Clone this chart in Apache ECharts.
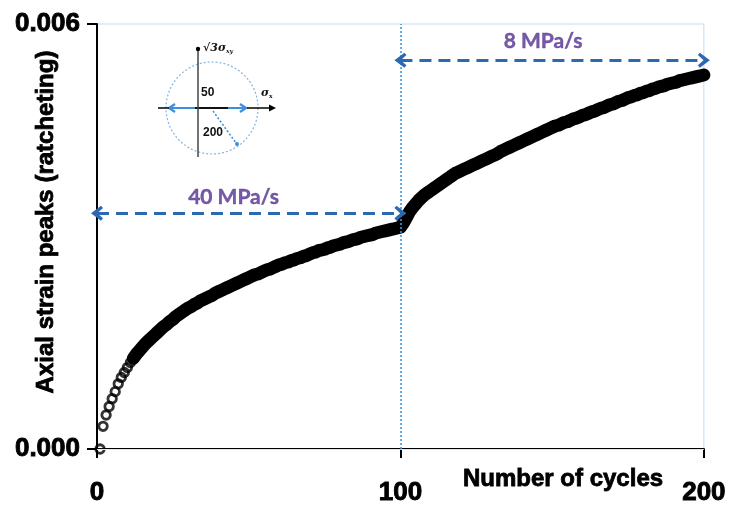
<!DOCTYPE html>
<html>
<head>
<meta charset="utf-8">
<script src="https://cdn.jsdelivr.net/npm/echarts@6/dist/echarts.min.js"></script>
<style>
html,body{margin:0;padding:0;background:#fff;}
#chart{width:729px;height:508px;}
</style>
</head>
<body>
<div id="chart"></div>
<script>
// ---- data ----
const strain = [
0, 0.00032, 0.00048, 0.00060, 0.00071, 0.00081, 0.00092, 0.00101, 0.00108, 0.00115,
0.00122, 0.00128, 0.00134, 0.00139, 0.00144, 0.00149, 0.00153, 0.00157, 0.00161, 0.00165,
0.00169, 0.00173, 0.00176, 0.00180, 0.00183, 0.00187, 0.00190, 0.00193, 0.00196, 0.00199,
0.00201, 0.00204, 0.00206, 0.00209, 0.00211, 0.00213, 0.00215, 0.00217, 0.00220, 0.00222,
0.00224, 0.00226, 0.00228, 0.00230, 0.00232, 0.00234, 0.00236, 0.00238, 0.00240, 0.00242,
0.00244, 0.00246, 0.00247, 0.00249, 0.00251, 0.00253, 0.00254, 0.00256, 0.00258, 0.00260,
0.00261, 0.00263, 0.00264, 0.00266, 0.00267, 0.00269, 0.00270, 0.00272, 0.00273, 0.00275,
0.00277, 0.00278, 0.00280, 0.00281, 0.00282, 0.00284, 0.00285, 0.00287, 0.00288, 0.00289,
0.00291, 0.00292, 0.00293, 0.00295, 0.00296, 0.00297, 0.00299, 0.00300, 0.00301, 0.00302,
0.00303, 0.00305, 0.00306, 0.00307, 0.00308, 0.00309, 0.00310, 0.00311, 0.00312, 0.00313,
0.00319, 0.00327, 0.00335, 0.00341, 0.00346, 0.00351, 0.00355, 0.00359, 0.00362, 0.00365,
0.00368, 0.00371, 0.00374, 0.00377, 0.00380, 0.00383, 0.00386, 0.00389, 0.00391, 0.00393,
0.00395, 0.00397, 0.00399, 0.00401, 0.00403, 0.00405, 0.00407, 0.00409, 0.00411, 0.00413,
0.00415, 0.00417, 0.00420, 0.00422, 0.00424, 0.00426, 0.00428, 0.00430, 0.00432, 0.00434,
0.00436, 0.00438, 0.00440, 0.00442, 0.00444, 0.00446, 0.00448, 0.00450, 0.00452, 0.00454,
0.00456, 0.00457, 0.00459, 0.00461, 0.00462, 0.00464, 0.00466, 0.00467, 0.00469, 0.00471,
0.00472, 0.00474, 0.00476, 0.00477, 0.00479, 0.00481, 0.00482, 0.00484, 0.00486, 0.00487,
0.00489, 0.00491, 0.00492, 0.00494, 0.00496, 0.00497, 0.00499, 0.00500, 0.00502, 0.00503,
0.00505, 0.00506, 0.00508, 0.00509, 0.00511, 0.00512, 0.00513, 0.00515, 0.00516, 0.00517,
0.00518, 0.00520, 0.00521, 0.00522, 0.00523, 0.00524, 0.00525, 0.00526, 0.00527, 0.00528
];
const firstCycle = 1;
const cycles = strain.map((_, i) => firstCycle + i);

const xTicks = [0, 100, 200];
const yTicks = [0.000, 0.006];
const rateLabels = ['40 MPa/s', '8 MPa/s'];
const rateRanges = [[0, 100], [100, 200]];
const rateArrowY = [0.00333, 0.00549];
const rateLabelY = [0.00356, 0.00575];
const rateChange = 100;
const faintGridY = 0.00481;

const points = cycles.map((c, i) => [c, strain[i]]);
const bandStart = 11;

// ---- chart ----
const chart = echarts.init(document.getElementById('chart'), null, {renderer: 'canvas'});
const FONT = '"Liberation Sans", Arial, sans-serif';
const BLUE = '#2c69b0';
const chevron = 'path://M5,0 L10,7 L8.4,8.4 L5,4.4 L1.6,8.4 L0,7 Z';
const heavy = {textBorderColor: '#000', textBorderWidth: 0.9};

const option = {
  backgroundColor: '#ffffff',
  animation: false,
  grid: {left: 97, right: 22, top: 24, bottom: 59, show: true,
         borderColor: '#c6dbf0', borderWidth: 1, backgroundColor: 'transparent'},
  xAxis: {
    type: 'value', min: xTicks[0], max: xTicks[xTicks.length - 1], interval: 100,
    axisLine: {show: true, onZero: false, lineStyle: {color: '#000', width: 2}},
    axisTick: {show: true, length: 9, lineStyle: {color: '#000', width: 2}},
    axisLabel: Object.assign({margin: 31, fontFamily: FONT, fontWeight: 'bold', fontSize: 26, color: '#000'}, heavy),
    splitLine: {show: false}
  },
  yAxis: {
    type: 'value', min: yTicks[0], max: yTicks[1], interval: 0.006,
    axisLine: {show: true, onZero: false, lineStyle: {color: '#000', width: 2}},
    axisTick: {show: true, length: 10, lineStyle: {color: '#000', width: 2}},
    axisLabel: Object.assign({margin: 17, fontFamily: FONT, fontWeight: 'bold', fontSize: 26, color: '#000',
                formatter: v => v.toFixed(3)}, heavy),
    splitLine: {show: false}
  },
  series: [
    {
      type: 'line', name: 'band', data: points.slice(bandStart), showSymbol: false,
      lineStyle: {color: '#000', width: 13, cap: 'round', join: 'round'}, z: 2,
      silent: true
    },
    {
      type: 'scatter', name: 'strain', data: points, symbol: 'circle', symbolSize: 8.5,
      itemStyle: {color: 'transparent', borderColor: '#000', borderWidth: 2.8}, z: 3,
      clip: false,
      markLine: {
        silent: true, symbol: 'none', animation: false,
        label: {show: false},
        data: [
          {xAxis: rateChange, lineStyle: {color: '#3c9ae0', width: 1.6, type: [2, 2]}},
          {yAxis: faintGridY, lineStyle: {color: '#dce9f6', width: 1, type: 'solid'}}
        ]
      }
    },
    {
      type: 'scatter', name: 'rates', symbolSize: 1,
      data: rateLabels.map((t, i) => ({value: [(rateRanges[i][0] + rateRanges[i][1]) / 2 + (i === 0 ? -5 : -3), rateLabelY[i]], name: t})),
      itemStyle: {color: 'transparent'},
      label: {show: true, position: 'inside', formatter: p => p.name,
              fontFamily: 'Lato, "Open Sans", sans-serif', fontWeight: 'bold', fontSize: 21, color: '#54318f',
              textBorderColor: '#54318f', textBorderWidth: 0.4},
      z: 4,
      markLine: {
        silent: true, animation: false,
        symbol: [chevron, chevron], symbolSize: [15, 12],
        label: {show: false},
        lineStyle: {color: BLUE, width: 3, type: [12, 7]},
        data: rateRanges.map((r, i) => [{coord: [r[0], rateArrowY[i]]}, {coord: [r[1], rateArrowY[i]]}])
      }
    }
  ],
  graphic: [
    {type: 'text', x: 46, y: 222, rotation: Math.PI / 2,
     style: {text: 'Axial strain peaks (ratcheting)', font: 'bold 24px ' + FONT, fill: '#000',
             stroke: '#000', lineWidth: 0.8,
             align: 'center', verticalAlign: 'middle'}},
    {type: 'text', x: 463, y: 479,
     style: {text: 'Number of cycles', font: 'bold 24px ' + FONT, fill: '#000',
             stroke: '#000', lineWidth: 0.8,
             align: 'left', verticalAlign: 'middle'}},
    // inset loading-path sketch
    {type: 'circle', shape: {cx: 212, cy: 108, r: 46},
     style: {fill: 'none', stroke: '#86b6e0', lineWidth: 1.2, lineDash: [2, 2]}},
    {type: 'line', shape: {x1: 168, y1: 108, x2: 247, y2: 108}, style: {stroke: '#3c8fdc', lineWidth: 2.2}},
    {type: 'polyline', shape: {points: [[175, 104], [169, 108], [175, 112]]}, style: {stroke: '#3c8fdc', lineWidth: 2.2, fill: 'none'}},
    {type: 'polyline', shape: {points: [[240, 104], [246, 108], [240, 112]]}, style: {stroke: '#3c8fdc', lineWidth: 2.2, fill: 'none'}},
    {type: 'line', shape: {x1: 158, y1: 108, x2: 169, y2: 108}, style: {stroke: '#111', lineWidth: 1.6}},
    {type: 'line', shape: {x1: 195, y1: 108, x2: 228, y2: 108}, style: {stroke: '#111', lineWidth: 2.2}},
    {type: 'line', shape: {x1: 247, y1: 108, x2: 270, y2: 108}, style: {stroke: '#111', lineWidth: 1.6}},
    {type: 'polygon', shape: {points: [[276, 108], [269, 104.5], [269, 111.5]]}, style: {fill: '#000'}},
    {type: 'line', shape: {x1: 198, y1: 49, x2: 198, y2: 157}, style: {stroke: '#444', lineWidth: 1.5}},
    {type: 'circle', shape: {cx: 198, cy: 49, r: 2.2}, style: {fill: '#000'}},
    {type: 'line', shape: {x1: 213, y1: 111, x2: 236, y2: 143}, style: {stroke: '#3c8fdc', lineWidth: 1.6, lineDash: [2, 2]}},
    {type: 'circle', shape: {cx: 237, cy: 144, r: 2}, style: {fill: '#3c8fdc'}},
    {type: 'text', x: 201, y: 93,
     style: {text: '50', font: 'bold 12px ' + FONT, fill: '#111', align: 'left', verticalAlign: 'middle'}},
    {type: 'text', x: 203, y: 133,
     style: {text: '200', font: 'bold 12px ' + FONT, fill: '#111', align: 'left', verticalAlign: 'middle'}},
    {type: 'text', x: 203, y: 48,
     style: {text: '√3σ{s|xy}', fill: '#111', font: 'bold italic 11px "DejaVu Serif", serif',
             align: 'left', verticalAlign: 'middle',
             rich: {s: {fontSize: 6, fontWeight: 'bold', fontStyle: 'italic', fontFamily: '"DejaVu Serif", serif', padding: [6, 0, 0, 0], fill: '#111'}}}},
    {type: 'text', x: 261, y: 93,
     style: {text: 'σ{s|x}', fill: '#111', font: 'bold italic 11px "DejaVu Serif", serif',
             align: 'left', verticalAlign: 'middle',
             rich: {s: {fontSize: 6, fontWeight: 'bold', fontFamily: '"DejaVu Serif", serif', padding: [6, 0, 0, 0], fill: '#111'}}}}
  ]
};
chart.setOption(option);
</script>
</body>
</html>
